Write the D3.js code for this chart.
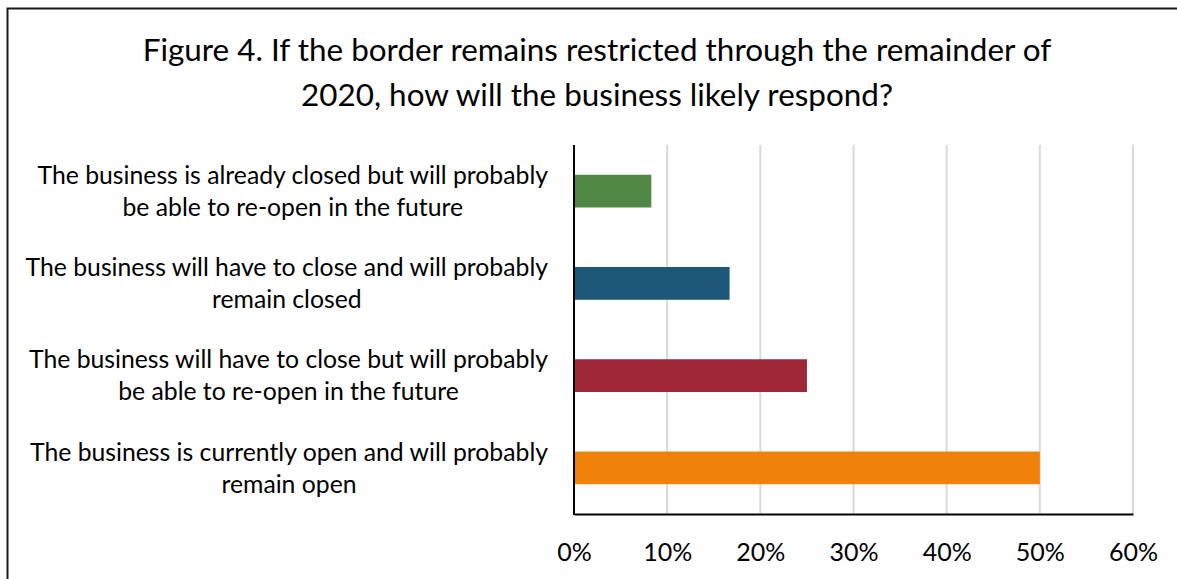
<!DOCTYPE html>
<html>
<head>
<meta charset="utf-8">
<script src="https://cdn.jsdelivr.net/npm/d3@7"></script>
<style>
  html, body { margin: 0; padding: 0; background: #fff; }
  svg { display: block; }
  text { font-family: Lato, "Open Sans", "Noto Sans", sans-serif; fill: #000; }
</style>
</head>
<body>
<svg id="chart" width="1177" height="579"></svg>
<script>
// Survey responses, top to bottom
const categories = [
  ["The business is already closed but will probably", "be able to re-open in the future"],
  ["The business will have to close and will probably", "remain closed"],
  ["The business will have to close but will probably", "be able to re-open in the future"],
  ["The business is currently open and will probably", "remain open"]
];
const shares = [0.083, 0.167, 0.25, 0.50];
const barColors = ["#518744", "#1D5879", "#9E2837", "#F0820C"];
const tickValues = [0, 0.1, 0.2, 0.3, 0.4, 0.5, 0.6];
const titleLines = [
  "Figure 4. If the border remains restricted through the remainder of",
  "2020, how will the business likely respond?"
];

const svg = d3.select("#chart");

// Outer frame
svg.append("rect")
  .attr("x", 7.5).attr("y", 8.5)
  .attr("width", 1200).attr("height", 600)
  .attr("fill", "none").attr("stroke", "#1a1a1a").attr("stroke-width", 2);

const plot = { left: 574, right: 1133, top: 145, bottom: 514 };

const x = d3.scaleLinear().domain([0, 0.6]).range([plot.left, plot.right]);
const y = d3.scaleBand().domain(d3.range(categories.length))
  .range([plot.top, plot.bottom]).paddingInner(0.645).paddingOuter(0.3225);

// Fit a text element's font size to a target width
function fitText(sel, targetWidth, baseSize) {
  sel.style("font-size", baseSize + "px");
  const w = sel.node().getComputedTextLength();
  const size = baseSize * targetWidth / w;
  sel.style("font-size", size + "px");
  return size;
}

// Title
const t1 = svg.append("text").attr("x", 597).attr("y", 61).attr("text-anchor", "middle").text(titleLines[0]);
const titleSize = fitText(t1, 909, 30);
svg.append("text").attr("x", 597).attr("y", 106).attr("text-anchor", "middle")
  .style("font-size", titleSize + "px").text(titleLines[1]);

// Gridlines
svg.append("g").selectAll("line")
  .data(tickValues.filter(d => d > 0))
  .join("line")
  .attr("x1", d => x(d)).attr("x2", d => x(d))
  .attr("y1", plot.top).attr("y2", plot.bottom)
  .attr("stroke", "#d9d9d9").attr("stroke-width", 2);

// Bars
svg.append("g").selectAll("rect")
  .data(shares)
  .join("rect")
  .attr("x", x(0))
  .attr("y", (d, i) => y(i))
  .attr("width", d => x(d) - x(0))
  .attr("height", y.bandwidth())
  .attr("fill", (d, i) => barColors[i]);

// Bottom axis with percentage labels
const xAxis = d3.axisBottom(x).tickValues(tickValues).tickFormat(d3.format(".0%")).tickSize(0).tickPadding(0);
const gx = svg.append("g").attr("transform", `translate(0,${plot.bottom})`).call(xAxis);
gx.select(".domain").attr("stroke", "#000").attr("stroke-width", 2);
gx.selectAll("text").attr("y", 47).attr("dy", null)
  .style("font-family", "Lato, 'Open Sans', sans-serif").style("font-size", "25px").attr("fill", "#000");

// Vertical axis line
svg.append("line")
  .attr("x1", x(0)).attr("x2", x(0)).attr("y1", plot.top).attr("y2", plot.bottom + 1)
  .attr("stroke", "#000").attr("stroke-width", 2);

// Category labels: lines centred within a block right-aligned to the axis
const labelRight = 548;
const probe = svg.append("text").text(categories[3][0]);
const labelSize = fitText(probe, 518, 22);
probe.remove();
const lineGap = 32;

categories.forEach((lines, i) => {
  const g = svg.append("g");
  const cy = y(i) + y.bandwidth() / 2;
  const texts = lines.map((s, j) => g.append("text")
    .style("font-size", labelSize + "px")
    .attr("text-anchor", "middle")
    .attr("y", cy + (j - (lines.length - 1) / 2) * lineGap + labelSize * 0.35)
    .text(s));
  const maxW = d3.max(texts, t => t.node().getComputedTextLength());
  texts.forEach(t => t.attr("x", labelRight - maxW / 2));
});
</script>
</body>
</html>
